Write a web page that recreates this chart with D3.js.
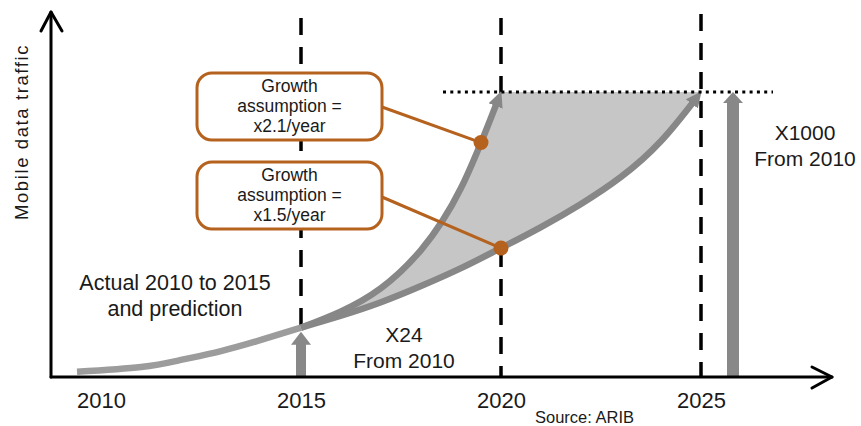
<!DOCTYPE html>
<html lang="en">
<head>
<meta charset="UTF-8">
<title>Mobile data traffic</title>
<script src="https://d3js.org/d3.v7.min.js"></script>
<style>
    body { margin: 0; background: #fff; }
    svg { display: block; font-family: Arial, "Liberation Sans", sans-serif; }
    .lbl { fill: #1a1a1a; }
    .axis text { font-size: 22px; fill: #1a1a1a; }
</style>
</head>
<body>
<script>
    /* data (traffic relative to 2010 ~ 1) */
    const tickYears = [2010, 2015, 2020, 2025];
    const actualYears = [2009.4, 2011, 2012, 2013, 2014, 2015];
    const actualTraffic = [0.2, 0.8, 2.5, 6.1, 13, 24];
    const fastYears = [2015, 2016, 2017, 2018, 2019, 2020];
    const fastTraffic = [24, 44, 84, 179, 417, 1000];
    const slowYears = [2015, 2016, 2017, 2018, 2019, 2020, 2021, 2022, 2023, 2024, 2025];
    const slowTraffic = [24, 38, 58, 88, 129, 185, 255, 346, 471, 669, 1000];
    const markerYears = [2019.5, 2020];
    const markerTraffic = [660, 185];
    const arrowYears = [2015, 2025.8];
    const arrowTraffic = [20, 1000];
    const targetLine = [2018.55, 2026.8];   // dotted line at x1000
    const boxLines = [["Growth", "assumption =", "x2.1/year"],
                      ["Growth", "assumption =", "x1.5/year"]];

    const W = 861, H = 426;
    const orange = "#b5621f";

    const svg = d3.select("body").append("svg")
        .attr("width", W).attr("height", H);

    const x = d3.scaleLinear().domain([2010, 2025]).range([101, 701]);
    const y = d3.scalePow().exponent(0.47).domain([0, 1000]).range([377, 92]);

    const zip = (xs, ys) => xs.map((d, i) => [d, ys[i]]);
    const line = d3.line()
        .x(d => x(d[0]))
        .y(d => y(d[1]))
        .curve(d3.curveNatural);

    /* arrow head for the projection curves */
    svg.append("defs").append("marker")
        .attr("id", "head")
        .attr("markerUnits", "userSpaceOnUse")
        .attr("viewBox", "0 -8 16 16")
        .attr("refX", 15).attr("refY", 0)
        .attr("markerWidth", 16).attr("markerHeight", 16)
        .attr("orient", "auto")
        .append("path")
        .attr("d", "M0,-7.5L16,0L0,7.5Z")
        .attr("fill", "#878787");

    /* dashed year lines */
    svg.append("g").selectAll("line")
        .data([2015, 2020, 2025])
        .join("line")
        .attr("x1", d => x(d)).attr("x2", d => x(d))
        .attr("y1", d => d === 2025 ? 14 : 18).attr("y2", y(0))
        .attr("stroke", "#000")
        .attr("stroke-width", 3.5)
        .attr("stroke-dasharray", "17,12");

    const fast = zip(fastYears, fastTraffic);
    const slow = zip(slowYears, slowTraffic);
    const actual = zip(actualYears, actualTraffic);

    /* shaded band between the two growth assumptions */
    svg.append("path")
        .attr("d", line(fast) + line(slow.slice().reverse()).replace(/^M/, "L") + "Z")
        .attr("fill", "#c6c6c6");

    /* actual 2010 - 2015 */
    svg.append("path")
        .attr("d", line(actual))
        .attr("fill", "none")
        .attr("stroke", "#9c9c9c")
        .attr("stroke-width", 6.5);

    /* projection curves, trimmed under their arrow heads */
    [fast, slow].forEach(pts => {
        const p = svg.append("path")
            .attr("d", line(pts))
            .attr("fill", "none")
            .attr("stroke", "#878787")
            .attr("stroke-width", 6.5)
            .attr("marker-end", "url(#head)");
        const L = p.node().getTotalLength();
        p.attr("stroke-dasharray", `${L - 10} ${L + 20}`);
    });

    /* dotted x1000 level */
    svg.append("line")
        .attr("x1", x(targetLine[0])).attr("x2", x(targetLine[1]))
        .attr("y1", y(1000)).attr("y2", y(1000))
        .attr("stroke", "#000")
        .attr("stroke-width", 3)
        .attr("stroke-dasharray", "3,4.3");

    /* up arrows (X24, X1000) */
    const arrows = svg.append("g").selectAll("g")
        .data(zip(arrowYears, arrowTraffic))
        .join("g")
        .attr("fill", "#888");
    arrows.append("rect")
        .attr("x", (d, i) => x(d[0]) - (i ? 6 : 5))
        .attr("width", (d, i) => i ? 12 : 10)
        .attr("y", (d, i) => y(d[1]) + (i ? 9 : 12))
        .attr("height", (d, i) => y(0) - y(d[1]) - (i ? 9 : 12));
    arrows.append("path")
        .attr("d", (d, i) => {
            const cx = x(d[0]), ty = y(d[1]), hw = 10, hl = i ? 11 : 13;
            return `M${cx},${ty}L${cx + hw},${ty + hl}L${cx - hw},${ty + hl}Z`;
        });

    /* axes */
    const axisG = svg.append("g")
        .attr("class", "axis")
        .attr("transform", `translate(0,${y(0)})`)
        .call(d3.axisBottom(x).tickValues(tickYears).tickFormat(d3.format("d"))
            .tickSize(0).tickPadding(15.5));
    axisG.select(".domain").remove();

    const ax = svg.append("g")
        .attr("fill", "none")
        .attr("stroke", "#000")
        .attr("stroke-width", 3)
        .attr("stroke-linejoin", "round")
        .attr("stroke-linecap", "round");
    ax.append("path").attr("d", `M51,${y(0)}L832,${y(0)}`);
    ax.append("path").attr("d", `M812,${y(0) - 10}L832,${y(0)}L812,${y(0) + 11}`);
    ax.append("path").attr("d", `M51,${y(0)}L51,12`);
    ax.append("path").attr("d", "M41,31L51,12L62,31");

    svg.append("text")
        .attr("class", "lbl")
        .attr("transform", "translate(28,132) rotate(-90)")
        .attr("text-anchor", "middle")
        .attr("font-size", 18.5)
        .attr("letter-spacing", 1.6)
        .text("Mobile data traffic");

    /* callout boxes */
    const boxes = svg.append("g").selectAll("g")
        .data(boxLines)
        .join("g")
        .attr("transform", (d, i) => `translate(197,${i ? 162 : 73})`);
    boxes.append("rect")
        .attr("width", 185).attr("height", 67)
        .attr("rx", 15).attr("ry", 15)
        .attr("fill", "#fff")
        .attr("stroke", orange)
        .attr("stroke-width", 3);
    boxes.selectAll("text")
        .data(d => d)
        .join("text")
        .attr("class", "lbl")
        .attr("x", 92.5)
        .attr("y", (d, i) => 19 + i * 20)
        .attr("text-anchor", "middle")
        .attr("font-size", 17.5)
        .text(d => d);

    /* leader lines to the curves */
    const marks = zip(markerYears, markerTraffic);
    svg.append("g").selectAll("line")
        .data(marks)
        .join("line")
        .attr("x1", 382).attr("y1", (d, i) => i ? 197 : 107)
        .attr("x2", d => x(d[0])).attr("y2", d => y(d[1]))
        .attr("stroke", orange)
        .attr("stroke-width", 3);
    svg.append("g").selectAll("circle")
        .data(marks)
        .join("circle")
        .attr("cx", d => x(d[0])).attr("cy", d => y(d[1]))
        .attr("r", 7.5)
        .attr("fill", orange);

    /* annotations */
    const note = (lines, cx, y0, dy, size) => {
        svg.append("g").selectAll("text")
            .data(lines)
            .join("text")
            .attr("class", "lbl")
            .attr("x", cx)
            .attr("y", (d, i) => y0 + i * dy)
            .attr("text-anchor", "middle")
            .attr("font-size", size)
            .text(d => d);
    };
    note(["Actual 2010 to 2015", "and prediction"], 175, 290, 26, 21.5);
    note(["X24", "From 2010"], 404, 342, 26, 21);
    note(["X1000", "From 2010"], 805, 140, 26, 21);

    svg.append("text")
        .attr("class", "lbl")
        .attr("x", 535).attr("y", 423)
        .attr("font-size", 16.5)
        .text("Source: ARIB");
</script>
</body>
</html>
